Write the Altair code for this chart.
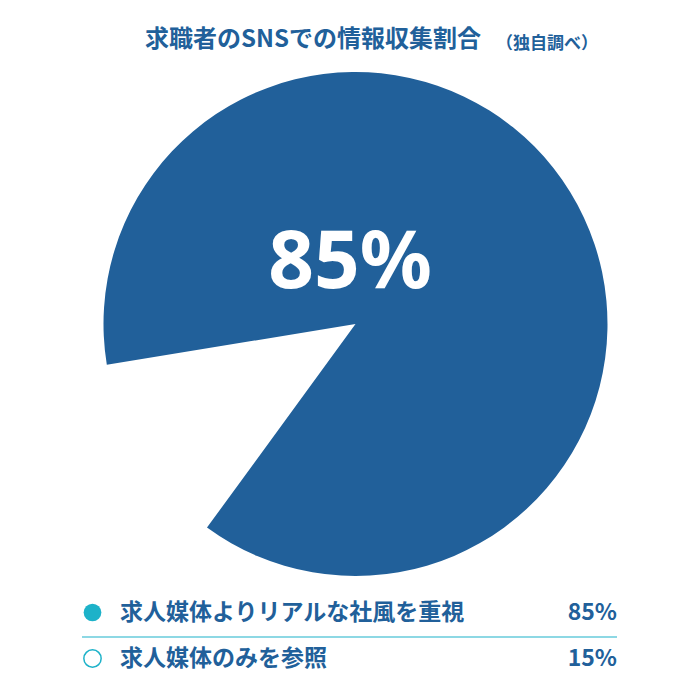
import altair as alt
import pandas as pd

title_main = "求職者のSNSでの情報収集割合"
title_note = "（独自調べ）"
categories = ["求人媒体よりリアルな社風を重視", "求人媒体のみを参照"]
values = [85, 15]
value_labels = ["85%", "15%"]
center_label = "85%"

BLUE = "#21609a"
TEAL = "#1db2c9"
FONT = "Noto Sans CJK JP"

pie_df = pd.DataFrame({"cat": categories[:1], "start": [0], "end": values[:1]})
legend_df = pd.DataFrame({"cat": categories, "val": values, "lab": value_labels,
                          "row": [0, 1]})

pie = alt.Chart(pie_df).mark_arc(color=BLUE, radius=252).encode(
    theta=alt.Theta("start:Q", scale=alt.Scale(domain=[0, 85], range=[4.550, 10.055])),
    theta2="end:Q",
    x=alt.value(347.5), y=alt.value(316),
)

center = alt.Chart(pd.DataFrame({"t": [center_label]})).mark_text(
    font="Noto Sans", fontSize=80, fontWeight="bold", color="white",
    align="center", baseline="middle").encode(
    text="t:N", x=alt.value(342), y=alt.value(256))

t1 = alt.Chart(pd.DataFrame({"t": [title_main]})).mark_text(
    font=FONT, fontSize=24, fontWeight="bold", color=BLUE,
    align="left", baseline="middle").encode(
    text="t:N", x=alt.value(137), y=alt.value(32))

t2 = alt.Chart(pd.DataFrame({"t": [title_note]})).mark_text(
    font=FONT, fontSize=17, fontWeight="bold", color=BLUE,
    align="left", baseline="middle").encode(
    text="t:N", x=alt.value(488), y=alt.value(36))

yscale = alt.Scale(domain=[0, 1], range=[604.5, 650.5])
ypos = alt.Y("row:Q", scale=yscale, axis=None)

dot_filled = alt.Chart(legend_df).transform_filter("datum.row == 0").mark_point(
    shape="circle", filled=True, color=TEAL, size=314, opacity=1).encode(
    x=alt.value(84.5), y=ypos)

dot_hollow = alt.Chart(legend_df).transform_filter("datum.row == 1").mark_point(
    shape="circle", filled=False, color=TEAL, size=300, strokeWidth=1.5, opacity=1).encode(
    x=alt.value(84.5), y=ypos)

leg_text = alt.Chart(legend_df).mark_text(
    font=FONT, fontSize=23, fontWeight="bold", color=BLUE,
    align="left", baseline="middle").encode(
    text="cat:N", x=alt.value(112), y=ypos)

leg_val = alt.Chart(legend_df).mark_text(
    font=FONT, fontSize=23, fontWeight="bold", color=BLUE,
    align="right", baseline="middle").encode(
    text="lab:N", x=alt.value(609), y=ypos)

sep = alt.Chart(pd.DataFrame({"a": [0]})).mark_rule(color=TEAL, strokeWidth=1.2).encode(
    x=alt.value(74), x2=alt.value(609), y=alt.value(629))

chart = alt.layer(pie, center, t1, t2, dot_filled, dot_hollow, leg_text, leg_val, sep).properties(
    width=684, height=684, padding=0, autosize=alt.AutoSizeParams(type="none")
).configure_view(stroke=None)

chart.save("out.html", embed_options={"renderer": "svg", "actions": False})
